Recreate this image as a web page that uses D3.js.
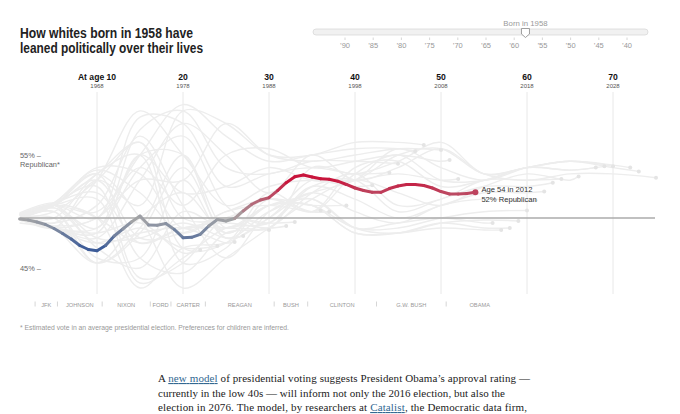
<!DOCTYPE html>
<html>
<head>
<meta charset="utf-8">
<script src="https://cdn.jsdelivr.net/npm/d3@7"></script>
<style>
  html, body { margin: 0; padding: 0; background: #fff; }
  svg { display: block; }
  text { font-family: "Liberation Sans", Arial, sans-serif; }
  .serif { font-family: "Liberation Serif", Georgia, serif; }
</style>
</head>
<body>
<svg id="chart" width="680" height="414"></svg>
<script>
const birthYear = 1958;
const lastYear = 2012;

// highlighted cohort: estimated % Republican at ages 1..54
const highlightValues = [
  49.9, 49.8, 49.6, 49.35, 48.95, 48.45, 47.9, 47.25, 46.85, 46.73,
  47.25, 48.2, 48.9, 49.6, 50.16, 49.3, 49.27, 49.45, 48.85, 48.03,
  48.07, 48.37, 49.2, 49.85, 49.7, 49.95, 50.56, 51.09, 51.43, 51.61,
  52.18, 52.8, 53.27, 53.41, 53.25, 53.12, 53.07, 52.92, 52.66, 52.38,
  52.18, 52.04, 52.04, 52.34, 52.54, 52.66, 52.66, 52.58, 52.38, 52.1,
  51.9, 51.9, 51.94, 52.04
];

// other cohorts: values at age 1, 5, 10, 15 ... and at their age in 2012
const otherCohorts = [
  { born: 1937, values: [49.5, 49, 48, 53, 57.5, 55, 52, 55, 53, 54, 55.5, 53.5, 53, 53.5, 53.5, 53.2] },
  { born: 1939, values: [49.8, 49, 49, 54, 56.5, 51, 49, 54, 53.5, 54.5, 56, 53.5, 54, 54.5, 54, 53.7] },
  { born: 1940, values: [49.8, 49, 48.5, 55, 55, 48, 50, 53, 53, 55, 55.5, 53.5, 54, 54.5, 54.2, 54.0] },
  { born: 1942, values: [50, 49.5, 51, 56.5, 51, 46, 50.5, 52, 53, 55.5, 54, 53, 54, 54.5, 54.1] },
  { born: 1943, values: [50, 50.5, 53, 56, 47, 47.5, 52, 50.5, 53.5, 55, 53, 53, 54, 53.8, 54.1] },
  { born: 1944, values: [50, 50, 53.5, 55, 45.5, 47, 51.5, 50.5, 54, 54.5, 52.5, 53, 54, 53.8, 54] },
  { born: 1946, values: [50, 51, 53.5, 50, 43, 46, 49, 51.5, 53, 52, 51, 52.5, 53.5, 53, 53.3] },
  { born: 1948, values: [50, 51.2, 53.5, 46, 44.5, 48.5, 49, 52, 53.5, 51, 51.5, 53, 53, 53.1] },
  { born: 1949, values: [50.2, 51.2, 52.5, 44, 45.5, 50, 49.5, 52.5, 53, 50.5, 51.5, 52.5, 52.5, 52.8] },
  { born: 1950, values: [50, 51, 51.5, 43.5, 46, 49, 49.5, 52.5, 51.5, 50, 51, 52, 52, 52.1] },
  { born: 1951, values: [50, 51, 50, 43, 47, 47.5, 50, 52, 50.5, 49.5, 51, 51.5, 51.3, 51.4] },
  { born: 1952, values: [50, 51, 47, 45, 50.5, 49, 51, 51, 49, 49, 50, 50.5, 50.6] },
  { born: 1953, values: [50, 50.5, 46, 46, 53, 48, 50.5, 51.5, 49, 48.5, 49.5, 49.8, 49.7] },
  { born: 1954, values: [50, 50.5, 45.5, 49, 55, 49, 51, 51, 48.5, 48.5, 49.5, 49, 49] },
  { born: 1955, values: [50, 50, 45.5, 48.5, 54, 48.5, 51, 51, 48.5, 48.5, 49, 48.8, 48.8] },
  { born: 1956, values: [50, 49, 45.5, 50, 52, 48.5, 51, 51.5, 49, 49.5, 50, 49.5, 49.5] },
  { born: 1960, values: [50, 49, 48.5, 55, 52, 52.5, 54, 53, 53, 53.5, 53, 53.1] },
  { born: 1961, values: [50, 49.2, 50, 54, 51, 55, 55.5, 54, 54.5, 55, 54.5, 54.6] },
  { born: 1962, values: [50, 49, 50, 53, 53, 57.5, 55, 54.5, 55, 55.5, 55.4] },
  { born: 1964, values: [50, 49, 53, 51, 58.5, 57.5, 55, 55, 56, 56, 55.8] },
  { born: 1965, values: [50, 51, 50.5, 55, 59, 56.5, 54.5, 55, 55.5, 55.5, 55.3] },
  { born: 1967, values: [50, 50.8, 49, 57, 58.5, 54, 53.5, 54.5, 54.5, 54.3] },
  { born: 1968, values: [50, 51, 50, 58, 57.5, 52.5, 53.5, 54, 53.5, 53.6] },
  { born: 1970, values: [50.3, 49.5, 53, 58.5, 55, 51, 52.5, 53, 52.5, 52.6] },
  { born: 1973, values: [50, 51, 53.5, 56, 50, 50, 51.5, 51, 51] },
  { born: 1975, values: [50, 51, 54, 53.5, 49, 50.5, 51.5, 50.5, 50.5] },
  { born: 1976, values: [50, 51.2, 53.8, 52, 48.5, 50.5, 51, 50.5, 50.6] },
  { born: 1979, values: [50.3, 51, 53, 48, 48.5, 50, 49.5, 49.6] },
  { born: 1980, values: [50.3, 51.2, 52, 47.5, 49, 49.5, 49, 49.2] },
  { born: 1982, values: [50.4, 51.2, 50, 47.5, 49, 49, 48.8] },
  { born: 1985, values: [50.3, 51, 48, 48, 49.5, 48, 48.2] },
  { born: 1986, values: [50.2, 50.8, 47.5, 48.5, 49, 47.5, 47.6] },
  { born: 1988, values: [50.3, 49, 47.5, 49, 47, 47.2] },
  { born: 1990, values: [50.2, 49, 48.5, 49.5, 46.5, 46.8] }
];

const decadeAges = [10, 20, 30, 40, 50, 60, 70];
const presidents = ["JFK", "JOHNSON", "NIXON", "FORD", "CARTER", "REAGAN", "BUSH", "CLINTON", "G.W. BUSH", "OBAMA"];
const termStarts = [1960.8, 1963.4, 1968.6, 1974.2, 1976.6, 1980.6, 1988.6, 1992.5, 2000.5, 2008.6];
const termEnd = 2016.4;
const sliderYears = [1990, 1985, 1980, 1975, 1970, 1965, 1960, 1955, 1950, 1945, 1940];
const yTicks = [55, 45];

const svg = d3.select('#chart');

const x = d3.scaleLinear().domain([10, 70]).range([97, 613]);
const y = d3.scaleLinear().domain([45, 50, 55]).range([268, 218, 155]);
const color = d3.scaleLinear()
  .domain([47, 50, 53])
  .range(['#3d5c98', '#a6a6a6', '#c8153c'])
  .clamp(true);

// title
const title = svg.append('g').attr('fill', '#222').style('font-weight', 'bold').style('font-size', '14px');
title.append('text').attr('x', 20).attr('y', 37.5)
  .attr('textLength', 173).attr('lengthAdjust', 'spacingAndGlyphs')
  .text('How whites born in ' + birthYear + ' have');
title.append('text').attr('x', 20).attr('y', 52.5)
  .attr('textLength', 183).attr('lengthAdjust', 'spacingAndGlyphs')
  .text('leaned politically over their lives');

// slider
const sx = d3.scaleLinear().domain([1990, 1940]).range([345, 627]);
svg.append('rect')
  .attr('x', 313).attr('y', 29).attr('width', 335).attr('height', 6).attr('rx', 3)
  .attr('fill', '#f1f1f1').attr('stroke', '#d9d9d9').attr('stroke-width', 0.8);
const sliderTicks = svg.append('g');
sliderTicks.selectAll('line').data(sliderYears).join('line')
  .attr('x1', d => sx(d)).attr('x2', d => sx(d))
  .attr('y1', 37.5).attr('y2', 40)
  .attr('stroke', '#ccc').attr('stroke-width', 0.8);
sliderTicks.selectAll('text').data(sliderYears).join('text')
  .attr('x', d => sx(d)).attr('y', 47.5)
  .attr('text-anchor', 'middle').attr('fill', '#999').style('font-size', '7.5px')
  .text(d => '\u2019' + String(d).slice(2));
const hx = sx(birthYear);
svg.append('path')
  .attr('d', `M${hx - 4},28.5 L${hx + 4},28.5 L${hx + 4},34 L${hx},37.5 L${hx - 4},34 Z`)
  .attr('fill', '#fff').attr('stroke', '#888').attr('stroke-width', 0.8);
svg.append('text').attr('x', hx).attr('y', 26)
  .attr('text-anchor', 'middle').attr('fill', '#999').style('font-size', '7.8px')
  .text('Born in ' + birthYear);

// decade gridlines and labels
const grid = svg.append('g');
grid.selectAll('line').data(decadeAges).join('line')
  .attr('x1', d => x(d)).attr('x2', d => x(d))
  .attr('y1', 92).attr('y2', 294)
  .attr('stroke', '#e8e8e8').attr('stroke-width', 1);
grid.selectAll('text.age').data(decadeAges).join('text')
  .attr('class', 'age')
  .attr('x', d => x(d)).attr('y', 79.5)
  .attr('text-anchor', 'middle').attr('fill', '#111')
  .style('font-size', '8.6px').style('font-weight', 'bold')
  .text((d, i) => i === 0 ? 'At age ' + d : d);
grid.selectAll('text.yr').data(decadeAges).join('text')
  .attr('class', 'yr')
  .attr('x', d => x(d)).attr('y', 87.5)
  .attr('text-anchor', 'middle').attr('fill', '#555')
  .style('font-size', '6px')
  .text(d => birthYear + d);

// other cohorts
const cohortAges = c => {
  const end = lastYear - c.born;
  const ages = [1];
  for (let a = 5; a < end; a += 5) ages.push(a);
  ages.push(end);
  return ages;
};
const cohortLines = otherCohorts.map(c => {
  const ages = cohortAges(c);
  return ages.map((a, i) => [a, c.values[i]]);
});
const grayLine = d3.line()
  .x(d => x(d[0])).y(d => y(d[1]))
  .curve(d3.curveCatmullRom.alpha(0.5));
const others = svg.append('g');
others.selectAll('path').data(cohortLines).join('path')
  .attr('d', grayLine)
  .attr('fill', 'none').attr('stroke', '#ededed').attr('stroke-width', 1.4);
others.selectAll('circle').data(cohortLines).join('circle')
  .attr('cx', d => x(d[d.length - 1][0])).attr('cy', d => y(d[d.length - 1][1]))
  .attr('r', 2).attr('fill', '#e4e4e4');

// 50% baseline
svg.append('line')
  .attr('x1', 20).attr('x2', 655)
  .attr('y1', y(50)).attr('y2', y(50))
  .attr('stroke', '#ababab').attr('stroke-width', 1.3);

// y labels
const yl = svg.append('g').attr('fill', '#666').style('font-size', '7.4px');
yl.selectAll('text').data(yTicks).join('text')
  .attr('x', 20).attr('y', d => y(d) + 2.5)
  .text(d => d + '% \u2013');
yl.append('text').attr('x', 20).attr('y', y(55) + 11.5).text('Republican*');

// highlighted cohort
const hl = highlightValues.map((v, i) => [i + 1, v]);
const segs = d3.pairs(hl);
svg.append('g').selectAll('line').data(segs).join('line')
  .attr('x1', d => x(d[0][0])).attr('y1', d => y(d[0][1]))
  .attr('x2', d => x(d[1][0])).attr('y2', d => y(d[1][1]))
  .attr('stroke', d => color((d[0][1] + d[1][1]) / 2))
  .attr('stroke-width', 3).attr('stroke-linecap', 'round');
const last = hl[hl.length - 1];
svg.append('circle')
  .attr('cx', x(last[0])).attr('cy', y(last[1])).attr('r', 3)
  .attr('fill', color(last[1]));
const endLabel = svg.append('g').attr('fill', '#333').style('font-size', '7.6px');
endLabel.append('text').attr('x', x(last[0]) + 6).attr('y', y(last[1]) - 0.5)
  .text('Age ' + last[0] + ' in ' + (birthYear + last[0]));
endLabel.append('text').attr('x', x(last[0]) + 6).attr('y', y(last[1]) + 10)
  .text(Math.round(last[1]) + '% Republican');

// presidents
const ageOf = yr => yr - birthYear;
const terms = presidents.map((p, i) => ({
  name: p,
  start: termStarts[i],
  end: i < termStarts.length - 1 ? termStarts[i + 1] : termEnd
}));
const pres = svg.append('g');
pres.selectAll('line').data(terms).join('line')
  .attr('x1', d => x(ageOf(d.start))).attr('x2', d => x(ageOf(d.start)))
  .attr('y1', 301.5).attr('y2', 306.5)
  .attr('stroke', '#ccc').attr('stroke-width', 0.8);
pres.selectAll('text').data(terms).join('text')
  .attr('x', d => x(ageOf((d.start + d.end) / 2))).attr('y', 306.5)
  .attr('text-anchor', 'middle').attr('fill', '#999')
  .style('font-size', '5.7px')
  .text(d => d.name);

// footnote
svg.append('text').attr('x', 20).attr('y', 330)
  .attr('fill', '#999').style('font-size', '6.8px')
  .text('* Estimated vote in an average presidential election. Preferences for children are inferred.');

// article text
const body = svg.append('g').attr('class', 'serif').attr('fill', '#222').style('font-size', '11px');
const link = '#326891';
const l1 = body.append('text').attr('class', 'serif').attr('x', 158).attr('y', 382)
  .attr('textLength', 372).attr('lengthAdjust', 'spacing');
l1.append('tspan').text('A ');
l1.append('tspan').attr('fill', link).attr('text-decoration', 'underline').text('new model');
l1.append('tspan').text(' of presidential voting suggests President Obama\u2019s approval rating \u2014');
body.append('text').attr('class', 'serif').attr('x', 158).attr('y', 397)
  .attr('textLength', 347).attr('lengthAdjust', 'spacing')
  .text('currently in the low 40s \u2014 will inform not only the 2016 election, but also the');
const l3 = body.append('text').attr('class', 'serif').attr('x', 158).attr('y', 411)
  .attr('textLength', 369).attr('lengthAdjust', 'spacing');
l3.append('tspan').text('election in 2076. The model, by researchers at ');
l3.append('tspan').attr('fill', link).attr('text-decoration', 'underline').text('Catalist');
l3.append('tspan').text(', the Democratic data firm,');
</script>
</body>
</html>
